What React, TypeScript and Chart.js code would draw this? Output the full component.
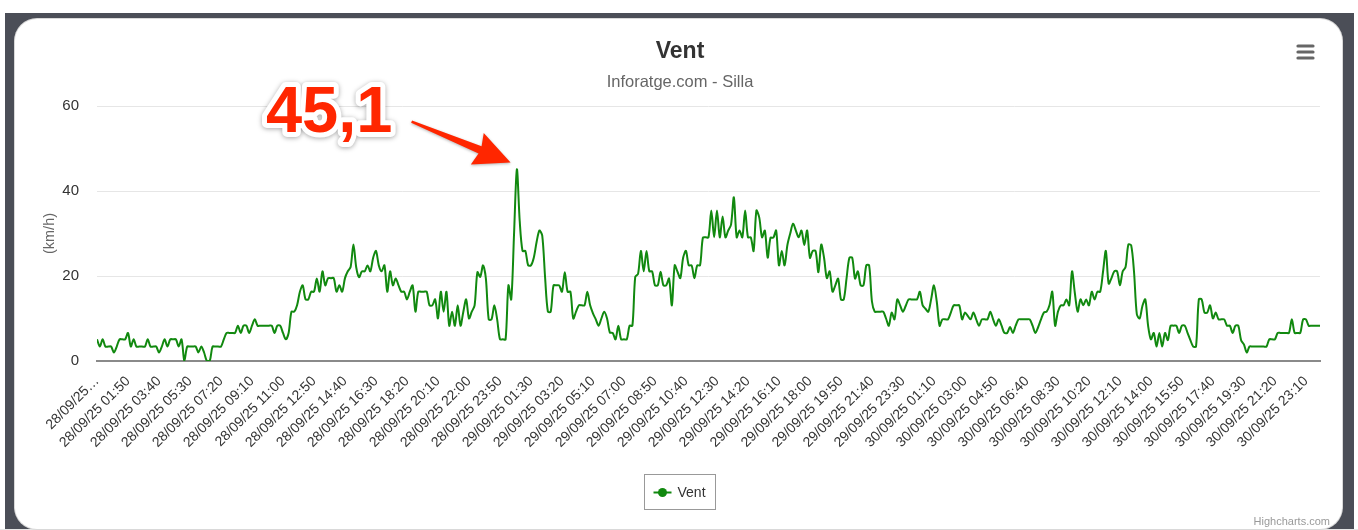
import React, { useEffect, useRef } from 'react';
import { Chart, registerables } from 'chart.js';

Chart.register(...registerables);

const FONT = '"Liberation Sans", Arial, Helvetica, sans-serif';

const chartTitle = 'Vent';
const chartSubtitle = 'Inforatge.com - Silla';
const yAxisTitle = '(km/h)';
const seriesName = 'Vent';
const creditText = 'Highcharts.com';
const lineColor = '#11890f';

const tickStep = 11;
const tickLabels = [
  '28/09/25…', '28/09/25 01:50', '28/09/25 03:40', '28/09/25 05:30', '28/09/25 07:20',
  '28/09/25 09:10', '28/09/25 11:00', '28/09/25 12:50', '28/09/25 14:40', '28/09/25 16:30',
  '28/09/25 18:20', '28/09/25 20:10', '28/09/25 22:00', '28/09/25 23:50', '29/09/25 01:30',
  '29/09/25 03:20', '29/09/25 05:10', '29/09/25 07:00', '29/09/25 08:50', '29/09/25 10:40',
  '29/09/25 12:30', '29/09/25 14:20', '29/09/25 16:10', '29/09/25 18:00', '29/09/25 19:50',
  '29/09/25 21:40', '29/09/25 23:30', '30/09/25 01:10', '30/09/25 03:00', '30/09/25 04:50',
  '30/09/25 06:40', '30/09/25 08:30', '30/09/25 10:20', '30/09/25 12:10', '30/09/25 14:00',
  '30/09/25 15:50', '30/09/25 17:40', '30/09/25 19:30', '30/09/25 21:20', '30/09/25 23:10',
];

const yMin = 0;
const yMax = 60;
const yStep = 20;

const windValues = [
  5.1, 3.4, 5.1, 3.4, 3.4, 3.4, 2.0, 3.4, 5.1, 5.1,
  5.1, 6.6, 3.4, 5.1, 3.4, 3.4, 3.4, 3.4, 5.1, 3.4,
  3.4, 3.4, 2.0, 3.4, 5.1, 3.4, 5.1, 5.1, 5.1, 3.4,
  5.1, 0, 3.4, 3.4, 3.4, 3.4, 2.0, 3.4, 2.0, 0,
  0, 3.4, 3.4, 3.4, 3.4, 5.1, 6.6, 6.6, 6.6, 6.6,
  8.3, 6.6, 8.3, 8.3, 6.6, 8.3, 9.8, 8.3, 8.3, 8.3,
  8.3, 8.3, 8.3, 6.6, 8.3, 8.3, 6.6, 5.1, 6.6, 11.6,
  11.6, 13.1, 16.3, 17.8, 14.5, 14.5, 16.3, 16.3, 19.4, 16.3,
  21.1, 17.8, 19.5, 19.5, 19.5, 16.3, 17.8, 16.3, 19.5, 21.1,
  22.1, 27.4, 22.0, 19.7, 21.1, 21.1, 22.5, 21.1, 24.3, 25.9,
  22.5, 21.1, 22.5, 16.3, 21.1, 17.8, 19.4, 17.8, 16.3, 16.3,
  14.5, 16.3, 17.8, 11.6, 16.3, 16.3, 16.3, 16.3, 13.1, 13.1,
  14.5, 10.0, 16.3, 11.6, 16.3, 8.3, 11.6, 8.3, 13.1, 8.3,
  11.6, 14.5, 10.0, 11.6, 13.1, 20.9, 19.8, 22.5, 19.4, 9.8,
  9.8, 13.1, 9.8, 5.1, 5.1, 5.1, 17.8, 14.5, 30.0, 45.1,
  33.0, 25.9, 25.9, 22.5, 22.5, 24.3, 28.0, 30.7, 29.5, 19.8,
  11.6, 11.6, 17.8, 17.8, 17.8, 16.3, 20.9, 16.3, 16.3, 10.0,
  11.6, 13.1, 13.1, 13.1, 16.3, 13.1, 11.2, 9.8, 8.3, 10.0,
  11.6, 10.0, 6.7, 6.6, 5.1, 8.3, 5.1, 5.1, 5.1, 8.3,
  8.3, 19.8, 20.5, 25.9, 21.1, 25.9, 21.1, 21.1, 17.8, 17.8,
  21.0, 17.8, 17.8, 19.4, 13.1, 22.5, 21.0, 19.5, 24.3, 25.9,
  22.5, 22.5, 19.5, 22.5, 22.5, 29.0, 29.1, 29.1, 35.4, 29.1,
  35.4, 29.1, 34.0, 29.1, 30.7, 32.1, 38.5, 29.1, 30.7, 29.1,
  35.4, 29.1, 29.1, 25.9, 35.4, 33.8, 29.1, 30.7, 24.3, 29.0,
  29.0, 30.7, 22.5, 25.9, 22.5, 27.3, 30.0, 32.3, 30.7, 29.1,
  30.7, 27.3, 30.7, 24.3, 25.9, 25.9, 20.9, 27.4, 24.3, 19.5,
  21.1, 16.3, 17.8, 19.4, 14.5, 14.5, 19.5, 24.3, 24.3, 19.4,
  21.1, 17.8, 17.8, 22.5, 22.5, 14.0, 11.6, 11.6, 11.6, 11.6,
  10.0, 8.3, 11.4, 9.8, 14.5, 13.1, 11.6, 13.0, 14.5, 14.5,
  14.5, 14.5, 16.3, 13.1, 12.3, 11.6, 14.5, 17.8, 14.0, 8.3,
  9.8, 9.8, 9.8, 11.4, 13.1, 13.1, 13.1, 9.8, 11.4, 10.6,
  9.8, 11.4, 9.8, 8.3, 9.8, 9.8, 9.8, 11.6, 9.8, 8.3,
  9.8, 8.3, 6.6, 6.6, 8.0, 6.6, 8.3, 9.8, 9.8, 9.8,
  9.8, 9.8, 8.3, 6.6, 8.0, 9.8, 11.4, 11.6, 13.1, 16.3,
  8.3, 11.6, 13.1, 13.1, 14.5, 13.1, 21.1, 16.0, 11.6, 14.5,
  13.1, 14.5, 13.1, 16.3, 14.5, 16.3, 16.3, 21.0, 25.9, 18.2,
  19.5, 21.1, 21.1, 17.8, 21.1, 22.1, 27.4, 27.2, 21.0, 11.0,
  10.0, 13.0, 14.5, 8.3, 5.1, 6.6, 3.4, 6.6, 3.4, 6.6,
  4.9, 8.3, 8.3, 8.3, 6.6, 8.3, 8.3, 6.6, 4.9, 3.4,
  3.4, 14.5, 14.5, 11.4, 11.4, 13.1, 10.0, 11.4, 9.8, 9.8,
  9.8, 8.3, 8.3, 6.6, 8.3, 8.3, 4.9, 3.9, 2.0, 3.4,
  3.4, 3.4, 3.4, 3.4, 3.4, 3.4, 5.1, 5.1, 5.1, 6.6,
  6.6, 6.6, 6.6, 6.6, 9.8, 6.6, 6.6, 6.6, 9.8, 9.8,
  8.3, 8.3, 8.3, 8.3, 8.3,
];

const decorPlugin = {
  id: 'decor',
  afterDraw(chart: any) {
    const ctx: CanvasRenderingContext2D = chart.ctx;
    const xs = chart.scales.x;
    const ys = chart.scales.y;

    // Legend
    ctx.save();
    const bx = 629.5;
    const by = 455.5;
    ctx.strokeStyle = '#999999';
    ctx.lineWidth = 1;
    ctx.strokeRect(bx, by, 71, 35);
    const ly = by + 18;
    ctx.strokeStyle = lineColor;
    ctx.lineWidth = 2;
    ctx.beginPath();
    ctx.moveTo(bx + 9, ly);
    ctx.lineTo(bx + 27, ly);
    ctx.stroke();
    ctx.fillStyle = lineColor;
    ctx.beginPath();
    ctx.arc(bx + 18, ly, 4.5, 0, Math.PI * 2);
    ctx.fill();
    ctx.fillStyle = '#333333';
    ctx.font = `14px ${FONT}`;
    ctx.textBaseline = 'middle';
    ctx.textAlign = 'left';
    ctx.fillText(seriesName, bx + 33, ly + 0.5);
    ctx.restore();

    // Hamburger menu
    ctx.save();
    ctx.strokeStyle = '#666666';
    ctx.lineWidth = 3.2;
    ctx.lineCap = 'round';
    [27, 33, 39].forEach((y) => {
      ctx.beginPath();
      ctx.moveTo(1283, y);
      ctx.lineTo(1298, y);
      ctx.stroke();
    });
    ctx.restore();

    // Credit
    ctx.save();
    ctx.fillStyle = '#999999';
    ctx.font = `11px ${FONT}`;
    ctx.textAlign = 'right';
    ctx.textBaseline = 'middle';
    ctx.fillText(creditText, 1315, 503);
    ctx.restore();

    // Peak annotation
    let pi = 0;
    windValues.forEach((v, i) => { if (v > windValues[pi]) pi = i; });
    const px = xs.getPixelForValue(pi);
    const py = ys.getPixelForValue(windValues[pi]);
    const label = windValues[pi].toFixed(1).replace('.', ',');

    ctx.save();
    ctx.font = `bold 65px ${FONT}`;
    ctx.textAlign = 'left';
    ctx.textBaseline = 'alphabetic';
    ctx.lineJoin = 'round';
    const tx = px - 251;
    const ty = py - 37;
    ctx.shadowColor = 'rgba(0,0,0,0.35)';
    ctx.shadowBlur = 5;
    ctx.shadowOffsetY = 1;
    ctx.strokeStyle = '#ffffff';
    ctx.lineWidth = 10;
    ctx.strokeText(label, tx, ty);
    ctx.shadowColor = 'rgba(0,0,0,0)';
    ctx.fillStyle = '#ff2600';
    ctx.fillText(label, tx, ty);
    ctx.restore();

    // Arrow
    const tailX = px - 105.3;
    const tailY = py - 47.6;
    const tipX = px - 6.3;
    const tipY = py - 6.9;
    const dx = tipX - tailX;
    const dy = tipY - tailY;
    const L = Math.hypot(dx, dy);
    const ux = dx / L;
    const uy = dy / L;
    const nx = -uy;
    const ny = ux;
    const P = (t: number, s: number): [number, number] => [tailX + ux * t + nx * s, tailY + uy * t + ny * s];
    const pts = [P(0, -1.2), P(L - 33, -4), P(L - 36, -17), P(L, 0), P(L - 36, 17), P(L - 33, 4), P(0, 1.2)];
    ctx.save();
    ctx.shadowColor = 'rgba(0,0,0,0.3)';
    ctx.shadowBlur = 3;
    ctx.shadowOffsetY = 1;
    ctx.fillStyle = '#ff2600';
    ctx.beginPath();
    pts.forEach(([x, y], i) => (i === 0 ? ctx.moveTo(x, y) : ctx.lineTo(x, y)));
    ctx.closePath();
    ctx.fill();
    ctx.restore();
  },
};

export default function App() {
  const ref = useRef<HTMLCanvasElement>(null);

  useEffect(() => {
    if (!ref.current) return;
    const lastIndex = windValues.length - 1;
    const chart = new Chart(ref.current, {
      type: 'line',
      data: {
        datasets: [
          {
            label: seriesName,
            data: windValues.map((v, i) => ({ x: i, y: v })),
            borderColor: lineColor,
            backgroundColor: lineColor,
            borderWidth: 2,
            pointRadius: 0,
            tension: 0.3,
            fill: false,
          },
        ],
      },
      options: {
        responsive: false,
        animation: false,
        events: [],
        layout: { padding: { left: 25, right: 22, top: 0, bottom: 0 } },
        plugins: {
          legend: { display: false },
          tooltip: { enabled: false },
          title: {
            display: true,
            text: chartTitle,
            color: '#333333',
            font: { size: 23, weight: 'bold', family: FONT },
            padding: { top: 19.2, bottom: 0 },
          },
          subtitle: {
            display: true,
            text: chartSubtitle,
            color: '#666666',
            font: { size: 16.5, family: FONT },
            padding: { top: 6.3, bottom: 14.1 },
          },
        },
        scales: {
          x: {
            type: 'linear',
            min: 0,
            max: lastIndex,
            grid: { display: false },
            border: { display: true, color: '#8a8a8a', width: 2 },
            ticks: {
              autoSkip: false,
              minRotation: 45,
              maxRotation: 45,
              padding: 4,
              color: '#333333',
              font: { size: 14, family: FONT },
              callback: (value: any) => {
                const k = Math.round(Number(value) / tickStep);
                return tickLabels[k] ?? '';
              },
            },
            afterBuildTicks: (axis: any) => {
              axis.ticks = tickLabels.map((_, k) => ({ value: k * tickStep }));
            },
            afterFit: (scale: any) => {
              scale.height = 167;
            },
          },
          y: {
            min: yMin,
            max: yMax,
            ticks: {
              stepSize: yStep,
              padding: 18,
              color: '#333333',
              font: { size: 15, family: FONT },
            },
            grid: {
              color: (c: any) => (c.tick && c.tick.value === 0 ? 'rgba(0,0,0,0)' : '#e6e6e6'),
              drawTicks: false,
              lineWidth: 1,
            },
            border: { display: false },
            title: {
              display: true,
              text: yAxisTitle,
              color: '#666666',
              font: { size: 14.5, family: FONT },
              padding: { top: 1.3, bottom: 0 },
            },
            afterFit: (scale: any) => {
              scale.width = 57;
            },
          },
        },
      } as any,
      plugins: [decorPlugin],
    });
    return () => chart.destroy();
  }, []);

  return (
    <div style={{ position: 'fixed', left: 0, top: 0, width: 1358, height: 530, background: '#ffffff', overflow: 'hidden' }}>
      <div style={{ position: 'absolute', left: 5, top: 13, width: 1349, height: 516, background: '#4b4e57' }} />
      <div style={{ position: 'absolute', left: 0, top: 529, width: 1358, height: 1, background: '#e6e6e6' }} />
      <div
        style={{
          position: 'absolute',
          left: 15,
          top: 19,
          width: 1327,
          height: 510,
          background: '#ffffff',
          borderRadius: 22,
          boxShadow: '0 0 0 1px #d9d9d9',
          overflow: 'hidden',
        }}
      >
        <canvas ref={ref} width={1327} height={509} style={{ display: 'block', width: 1327, height: 509 }} />
      </div>
    </div>
  );
}
